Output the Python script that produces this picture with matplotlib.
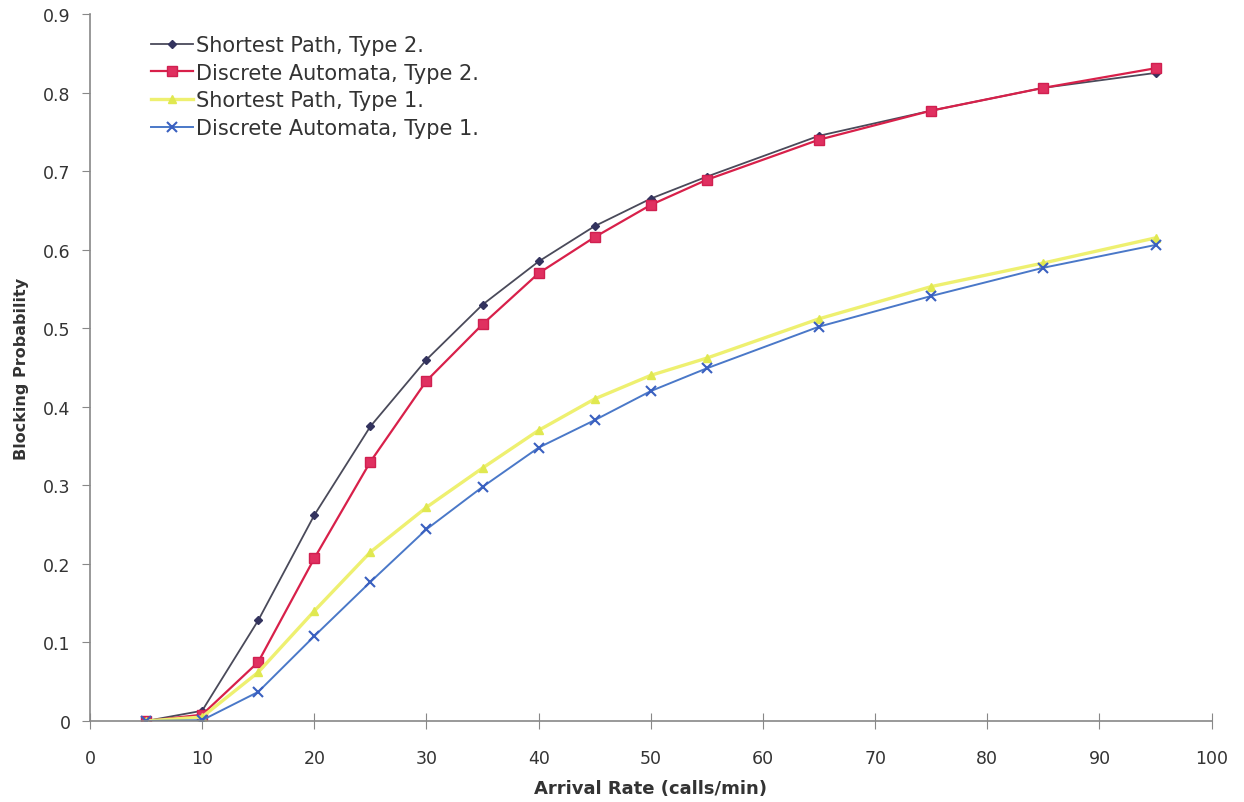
import matplotlib
matplotlib.use("Agg")
import matplotlib.pyplot as plt

arrival = [5, 10, 15, 20, 25, 30, 35, 40, 45, 50, 55, 65, 75, 85, 95]
sp_type2 = [0.0, 0.013, 0.128, 0.262, 0.375, 0.460, 0.530, 0.585, 0.630, 0.665, 0.693, 0.745, 0.777, 0.806, 0.825]
da_type2 = [0.0, 0.008, 0.075, 0.207, 0.330, 0.433, 0.505, 0.570, 0.616, 0.657, 0.689, 0.740, 0.777, 0.806, 0.831]
sp_type1 = [0.0, 0.005, 0.062, 0.140, 0.215, 0.272, 0.322, 0.370, 0.410, 0.440, 0.462, 0.512, 0.553, 0.583, 0.615]
da_type1 = [0.0, 0.001, 0.037, 0.108, 0.177, 0.244, 0.298, 0.348, 0.383, 0.420, 0.449, 0.502, 0.541, 0.577, 0.606]

xticks = list(range(0, 101, 10))
yticks = [0, 0.1, 0.2, 0.3, 0.4, 0.5, 0.6, 0.7, 0.8, 0.9]

plt.rcParams['font.family'] = ['DejaVu Sans']

fig = plt.figure(figsize=(12.44, 8.03), dpi=100)
ax = fig.add_axes([0.0723, 0.1009, 0.9017, 0.8804])

ax.plot(arrival, sp_type2, color='#4a4a5a', lw=1.3, marker='D', ms=4.5,
        mfc='#33335e', mec='#33335e', label='Shortest Path, Type 2.')
ax.plot(arrival, da_type2, color='#d8204a', lw=1.6, marker='s', ms=7,
        mfc='#e03060', mec='#d02050', label='Discrete Automata, Type 2.')
ax.plot(arrival, sp_type1, color='#eef070', lw=2.4, marker='^', ms=5.5,
        mfc='#e0e850', mec='#e0e850', label='Shortest Path, Type 1.')
ax.plot(arrival, da_type1, color='#4a78c8', lw=1.4, marker='x', ms=6.5, mew=1.5,
        mfc='#3a60c0', mec='#3a60c0', label='Discrete Automata, Type 1.')

ax.set_xlim(0, 100)
ax.set_ylim(0, 0.9)
ax.set_xticks(xticks)
ax.set_xticklabels([str(t) for t in xticks])
ax.set_yticks(yticks)
ax.set_yticklabels(['0'] + [f'{t:.1f}' for t in yticks[1:]])

for s in ['top', 'right']:
    ax.spines[s].set_visible(False)
for s in ['left', 'bottom']:
    ax.spines[s].set_color('#888888')
    ax.spines[s].set_linewidth(1.2)

ax.tick_params(axis='y', direction='out', length=6, color='#888888',
               labelsize=12.5, labelcolor='#333333', pad=8)
ax.tick_params(axis='x', direction='inout', length=12, color='#888888',
               labelsize=12.5, labelcolor='#333333', pad=14)

ax.set_xlabel('Arrival Rate (calls/min)', fontsize=13, fontweight='bold',
              color='#333333', labelpad=9)
ax.set_ylabel('Blocking Probability', fontsize=11.5, fontweight='bold',
              color='#333333', labelpad=10)

ax.legend(loc='upper left', bbox_to_anchor=(0.038, 0.997), frameon=False,
          fontsize=15, handlelength=2.0, handletextpad=0.15, labelspacing=0.37,
          labelcolor='#333333')

fig.savefig('out.png', dpi=100)
